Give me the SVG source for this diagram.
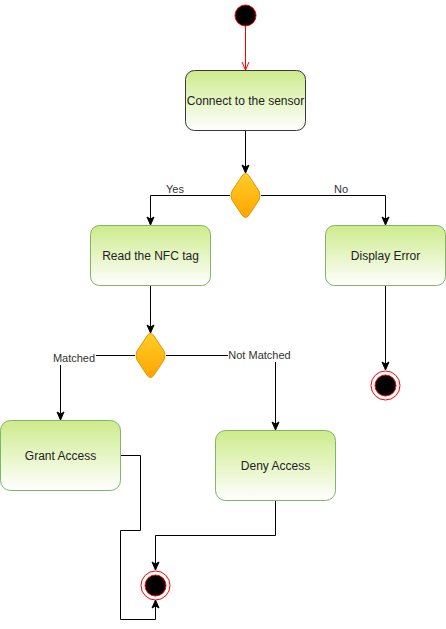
<svg xmlns="http://www.w3.org/2000/svg" width="446" height="629" viewBox="0 0 446 629">
<style>
.box{stroke:#82b366;stroke-width:1;}
.box1{stroke:#36393d;stroke-width:1;}
.lbl{font-family:"Liberation Sans",Arial,sans-serif;font-size:12px;fill:#222;text-anchor:middle;dominant-baseline:central;}
.elbl{font-family:"Liberation Sans",Arial,sans-serif;font-size:11px;fill:#333;text-anchor:middle;dominant-baseline:central;}
.edge{fill:none;stroke:#000;stroke-width:1;}
.dia{fill:url(#gOr);stroke:#d79b00;stroke-width:1;}
</style>
<defs>
<linearGradient id="gGr" x1="0" y1="0" x2="0" y2="1">
<stop offset="0" stop-color="#cdeb8b"/>
<stop offset="1" stop-color="#ffffff"/>
</linearGradient>
<linearGradient id="gOr" x1="0" y1="0" x2="0" y2="1">
<stop offset="0" stop-color="#ffcd28"/>
<stop offset="1" stop-color="#ffa500"/>
</linearGradient>
<marker id="arr" markerUnits="userSpaceOnUse" markerWidth="10" markerHeight="10" viewBox="0 0 10 10" refX="9" refY="5" orient="auto">
<path d="M1,1.5 L9,5 L1,8.5 L3,5 Z" fill="#000" stroke="#000" stroke-width="1"/>
</marker>
<marker id="arrR" markerUnits="userSpaceOnUse" markerWidth="10" markerHeight="10" viewBox="0 0 10 10" refX="9" refY="5" orient="auto">
<path d="M1,1.5 L9,5 L1,8.5" fill="none" stroke="#ff0000" stroke-width="1"/>
</marker>
</defs>

<g id="edges">
<path d="M245.5,26 L245.5,70" fill="none" stroke="#ff0000" marker-end="url(#arrR)"/>
<path class="edge" d="M245.5,130.5 L245.5,173" marker-end="url(#arr)"/>
<path class="edge" d="M230,195.5 L150.5,195.5 L150.5,225" marker-end="url(#arr)"/>
<path class="edge" d="M261,195.5 L385.5,195.5 L385.5,225" marker-end="url(#arr)"/>
<path class="edge" d="M385.5,285.5 L385.5,370" marker-end="url(#arr)"/>
<path class="edge" d="M150.5,285.5 L150.5,333" marker-end="url(#arr)"/>
<path class="edge" d="M135,355.5 L60.5,355.5 L60.5,420" marker-end="url(#arr)"/>
<path class="edge" d="M166,355.5 L275.5,355.5 L275.5,430" marker-end="url(#arr)"/>
<path class="edge" d="M120.5,455.5 L140.5,455.5 L140.5,530.5 L120.5,530.5 L120.5,619.5 L155.5,619.5 L155.5,600" marker-end="url(#arr)"/>
<path class="edge" d="M275.5,500.5 L275.5,535.5 L155.5,535.5 L155.5,570" marker-end="url(#arr)"/>
<text class="elbl" x="175" y="189">Yes</text>
<text class="elbl" x="341" y="189">No</text>
<rect x="52" y="350" width="44" height="15" fill="#fff"/>
<text class="elbl" x="74" y="358">Matched</text>
<rect x="228" y="348" width="63" height="14" fill="#fff"/>
<text class="elbl" x="259.5" y="355">Not Matched</text>
</g>

<g id="start">
<circle cx="245.5" cy="15.5" r="10.5" fill="#000" stroke="#ff0000" stroke-width="1"/>
</g>
<g id="connect">
<rect class="box1" x="185.5" y="70.5" width="120" height="60" rx="9" fill="url(#gGr)"/>
<text class="lbl" x="245.5" y="100.5">Connect to the sensor</text>
</g>
<g id="decision1">
<path class="dia" d="M245.5,173.5 Q247.5,173.5 249,176 L259,191 Q261,195.5 259,200 L249,215 Q247.5,217.5 245.5,217.5 Q243.5,217.5 242,215 L232,200 Q230,195.5 232,191 L242,176 Q243.5,173.5 245.5,173.5 Z"/>
</g>
<g id="readnfc">
<rect class="box" x="90.5" y="225.5" width="120" height="60" rx="9" fill="url(#gGr)"/>
<text class="lbl" x="150.5" y="255.5">Read the NFC tag</text>
</g>
<g id="displayerror">
<rect class="box" x="325.5" y="225.5" width="120" height="60" rx="9" fill="url(#gGr)"/>
<text class="lbl" x="385.5" y="255.5">Display Error</text>
</g>
<g id="end1">
<circle cx="385.5" cy="385.5" r="14.5" fill="#fff" stroke="#ff0000" stroke-width="1"/>
<circle cx="385.5" cy="385.5" r="10.5" fill="#000" stroke="#ff0000" stroke-width="1"/>
</g>
<g id="decision2">
<path class="dia" d="M150.5,333.5 Q152.5,333.5 154,336 L164,351 Q166,355.5 164,360 L154,375 Q152.5,377.5 150.5,377.5 Q148.5,377.5 147,375 L137,360 Q135,355.5 137,351 L147,336 Q148.5,333.5 150.5,333.5 Z"/>
</g>
<g id="grant">
<rect class="box" x="0.5" y="420.5" width="120" height="70" rx="10" fill="url(#gGr)"/>
<text class="lbl" x="60.5" y="455.5">Grant Access</text>
</g>
<g id="deny">
<rect class="box" x="215.5" y="430.5" width="120" height="70" rx="10" fill="url(#gGr)"/>
<text class="lbl" x="275.5" y="465.5">Deny Access</text>
</g>
<g id="end2">
<circle cx="155.5" cy="585.5" r="14.5" fill="#fff" stroke="#ff0000" stroke-width="1"/>
<circle cx="155.5" cy="585.5" r="10.5" fill="#000" stroke="#ff0000" stroke-width="1"/>
</g>
</svg>
